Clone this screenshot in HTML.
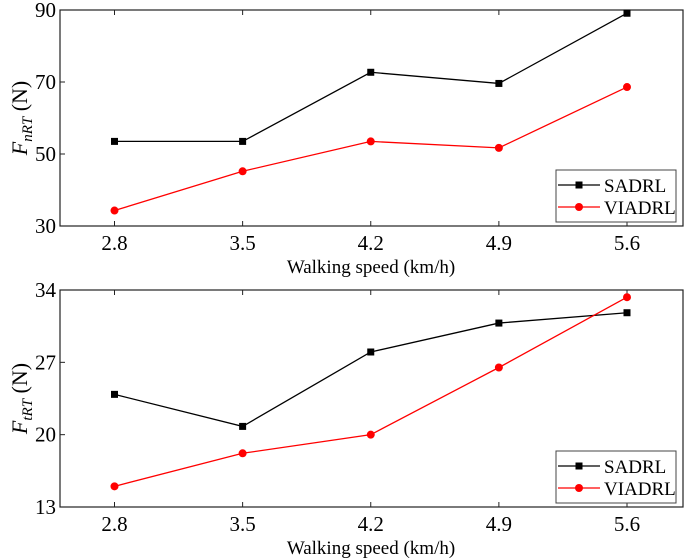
<!DOCTYPE html>
<html><head><meta charset="utf-8"><style>
body{margin:0;background:#fff;}
svg{display:block;font-family:"Liberation Serif",serif;}
</style></head><body>
<svg id="c" width="685" height="558"></svg>
<script>
const cats=[2.8,3.5,4.2,4.9,5.6];
const catLabels=["2.8","3.5","4.2","4.9","5.6"];
const topSADRL=[53.5,53.5,72.7,69.6,89.1];
const topVIADRL=[34.3,45.2,53.5,51.7,68.6];
const topTicks=[30,50,70,90];
const botSADRL=[23.9,20.8,28.0,30.8,31.8];
const botVIADRL=[15.0,18.2,20.0,26.5,33.3];
const botTicks=[13,20,27,34];
const NS="http://www.w3.org/2000/svg";
const svg=document.getElementById('c');
function mk(t,a,p){const e=document.createElementNS(NS,t);for(const k in a)e.setAttribute(k,a[k]);(p||svg).appendChild(e);return e;}
function panel(name,top,bot,ymin,ymax,ticks,s1,s2,sub){
 const L=60,R=683;
 const g=mk('g',{});
 
 
 const x=v=>114.5+(v-2.8)/(5.6-2.8)*(627-114.5);
 const y=v=>bot-(v-ymin)/(ymax-ymin)*(bot-top);
 const fr=mk('rect',{x:L,y:top,width:R-L,height:bot-top,fill:'none',stroke:'#222','stroke-width':1.2},g);
 
 ticks.forEach(t=>{
  mk('line',{x1:L,x2:L+5,y1:y(t),y2:y(t),stroke:'#222'},g);
  const tx=mk('text',{x:L-4,y:y(t)+7,'text-anchor':'end','font-size':21},g);tx.textContent=t;
  
 });
 cats.forEach((c,i)=>{
  mk('line',{x1:x(c),x2:x(c),y1:bot,y2:bot-5,stroke:'#222'},g);
  mk('line',{x1:x(c),x2:x(c),y1:top,y2:top+5,stroke:'#222'},g);
  const tx=mk('text',{x:x(c),y:bot+24,'text-anchor':'middle','font-size':21},g);tx.textContent=catLabels[i];
  
 });
 const xt=mk('text',{x:371,y:bot+47,'text-anchor':'middle','font-size':19},g);xt.textContent='Walking speed (km/h)';
 
 const yt=mk('text',{transform:`translate(27,${(top+bot)/2}) rotate(-90)`,'text-anchor':'middle','font-size':22},g);
 yt.innerHTML=`<tspan font-style="italic">F</tspan><tspan font-style="italic" font-size="15" dy="5">${sub}</tspan><tspan dy="-5"> (N)</tspan>`;
 
 [[s1,'#000','sq','sadrl'],[s2,'#f00','ci','viadrl']].forEach(([d,col,m,n])=>{
  const pl=mk('polyline',{points:d.map((v,i)=>x(cats[i])+','+y(v)).join(' '),fill:'none',stroke:col,'stroke-width':1.3},g);
  
  d.forEach((v,i)=>{
   const e=m==='sq'?mk('rect',{x:x(cats[i])-3.5,y:y(v)-3.5,width:7,height:7,fill:col},g):mk('circle',{cx:x(cats[i]),cy:y(v),r:4,fill:col},g);
   
  });
 });
 const ly=bot-56;
 const lg=mk('g',{},g);
 mk('rect',{x:556,y:ly,width:120,height:52,fill:'#fff',stroke:'#444'},lg);
 [['SADRL','#000','sq'],['VIADRL','#f00','ci']].forEach(([t,col,m],i)=>{
  const yy=ly+15+i*22;
  const en=mk('g',{},lg);
  mk('line',{x1:558,x2:600,y1:yy,y2:yy,stroke:col,'stroke-width':1.3},en);
  if(m==='sq')mk('rect',{x:575.5,y:yy-3.5,width:7,height:7,fill:col},en);else mk('circle',{cx:579,cy:yy,r:4,fill:col},en);
  const tx=mk('text',{x:604,y:yy+7,'font-size':19},en);tx.textContent=t;
 });
}
panel('top-panel',10,226,30,90,topTicks,topSADRL,topVIADRL,'nRT');
panel('bottom-panel',290,507,13,34,botTicks,botSADRL,botVIADRL,'tRT');
</script>
</body></html>
